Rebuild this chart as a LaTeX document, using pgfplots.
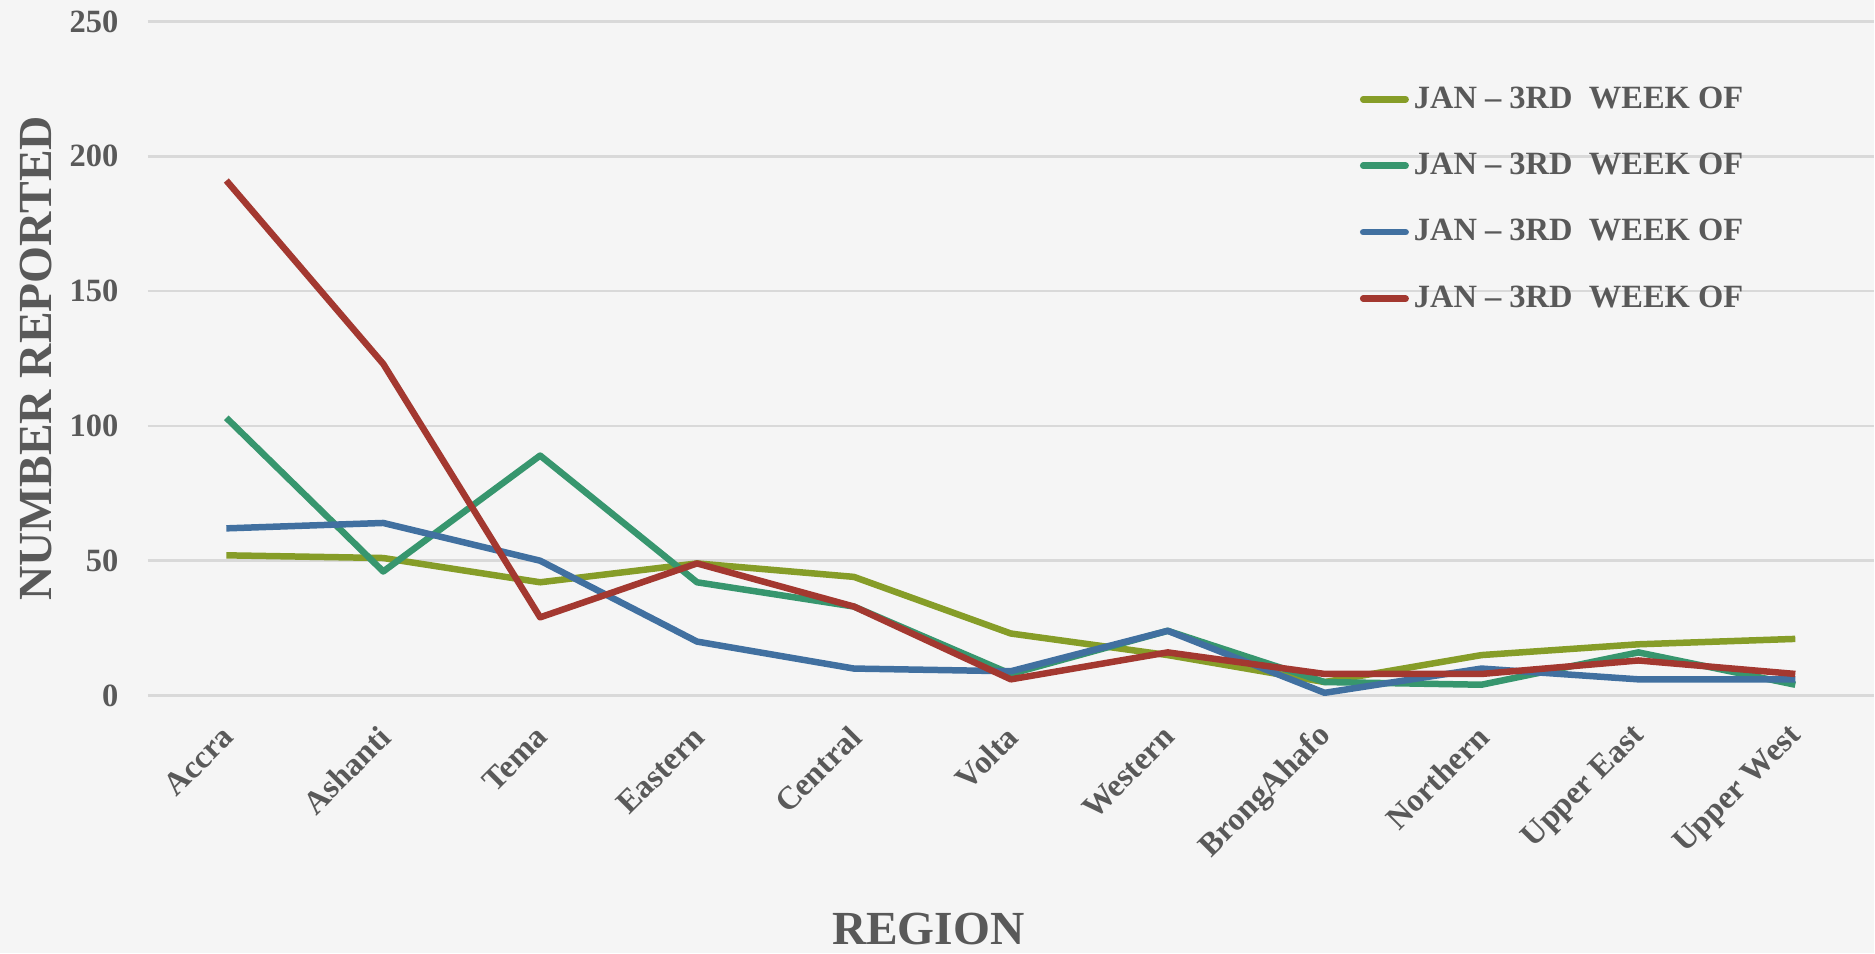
\documentclass[border=0pt]{standalone}
\usepackage{fontspec}
\setmainfont{Liberation Serif}
\usepackage{pgfplots}
\pgfplotsset{compat=1.18}
\definecolor{cOlive}{RGB}{134,157,40}
\definecolor{cGreen}{RGB}{55,150,110}
\definecolor{cBlue}{RGB}{65,112,160}
\definecolor{cRed}{RGB}{163,56,48}
\definecolor{txt}{RGB}{89,89,89}
\definecolor{gridc}{RGB}{217,217,217}
\definecolor{bg}{RGB}{245,245,245}
\begin{document}
\begin{tikzpicture}[x=1pt,y=1pt]
\fill[bg] (0,0) rectangle (750,381.6);
\begin{axis}[
  at={(59.2pt,103.2pt)}, anchor=south west,
  scale only axis, width=690.8pt, height=269.8pt,
  xmin=-0.5, xmax=10.5, ymin=0, ymax=250,
  xtick={0,...,10},
  xticklabels={Accra,Ashanti,Tema,Eastern,Central,Volta,Western,BrongAhafo,Northern,Upper East,Upper West},
  ytick={0,50,...,250},
  axis line style={draw=none},
  major tick length=0pt,
  ymajorgrids, grid style={gridc, line width=1pt},
  /pgf/number format/assume math mode=true,
  tick label style={font=\fontsize{13}{15}\selectfont\bfseries, text=txt},
  yticklabel style={inner sep=0pt, xshift=-11.6pt},
  xticklabel style={inner sep=0pt, xshift=0.8pt, yshift=-14.4pt, rotate=45, anchor=east},
  xlabel={REGION}, ylabel={NUMBER REPORTED},
  label style={font=\fontsize{19}{22}\selectfont\bfseries, text=txt, inner sep=0pt},
  xlabel style={at={(axis description cs:0.4522,-0.3458)}, anchor=center},
  ylabel style={at={(axis description cs:-0.0649,0.5)}, anchor=center},
  legend style={at={(0.702,0.915)}, anchor=north west, draw=none, fill=none,
    inner sep=0pt, font=\fontsize{13}{15}\selectfont\bfseries, text=txt,
    row sep=10.6pt,
    nodes={inner sep=2pt, text height=9.5pt, text depth=2.5pt}},
  legend cell align=left,
  legend image code/.code={\draw[#1, line width=2.6pt, line cap=round] (0pt,0pt) -- (17pt,0pt);},
  every axis plot/.append style={line width=2.6pt, line join=round, mark=none},
]
\addplot[cOlive] coordinates {(0,52) (1,51) (2,42) (3,49) (4,44) (5,23) (6,15) (7,5) (8,15) (9,19) (10,21)};
\addlegendentry{JAN -- 3RD~ WEEK OF}
\addplot[cGreen] coordinates {(0,103) (1,46) (2,89) (3,42) (4,33) (5,8) (6,24) (7,5) (8,4) (9,16) (10,4)};
\addlegendentry{JAN -- 3RD~ WEEK OF}
\addplot[cBlue] coordinates {(0,62) (1,64) (2,50) (3,20) (4,10) (5,9) (6,24) (7,1) (8,10) (9,6) (10,6)};
\addlegendentry{JAN -- 3RD~ WEEK OF}
\addplot[cRed] coordinates {(0,191) (1,123) (2,29) (3,49) (4,33) (5,6) (6,16) (7,8) (8,8) (9,13) (10,8)};
\addlegendentry{JAN -- 3RD~ WEEK OF}
\end{axis}
\end{tikzpicture}
\end{document}
